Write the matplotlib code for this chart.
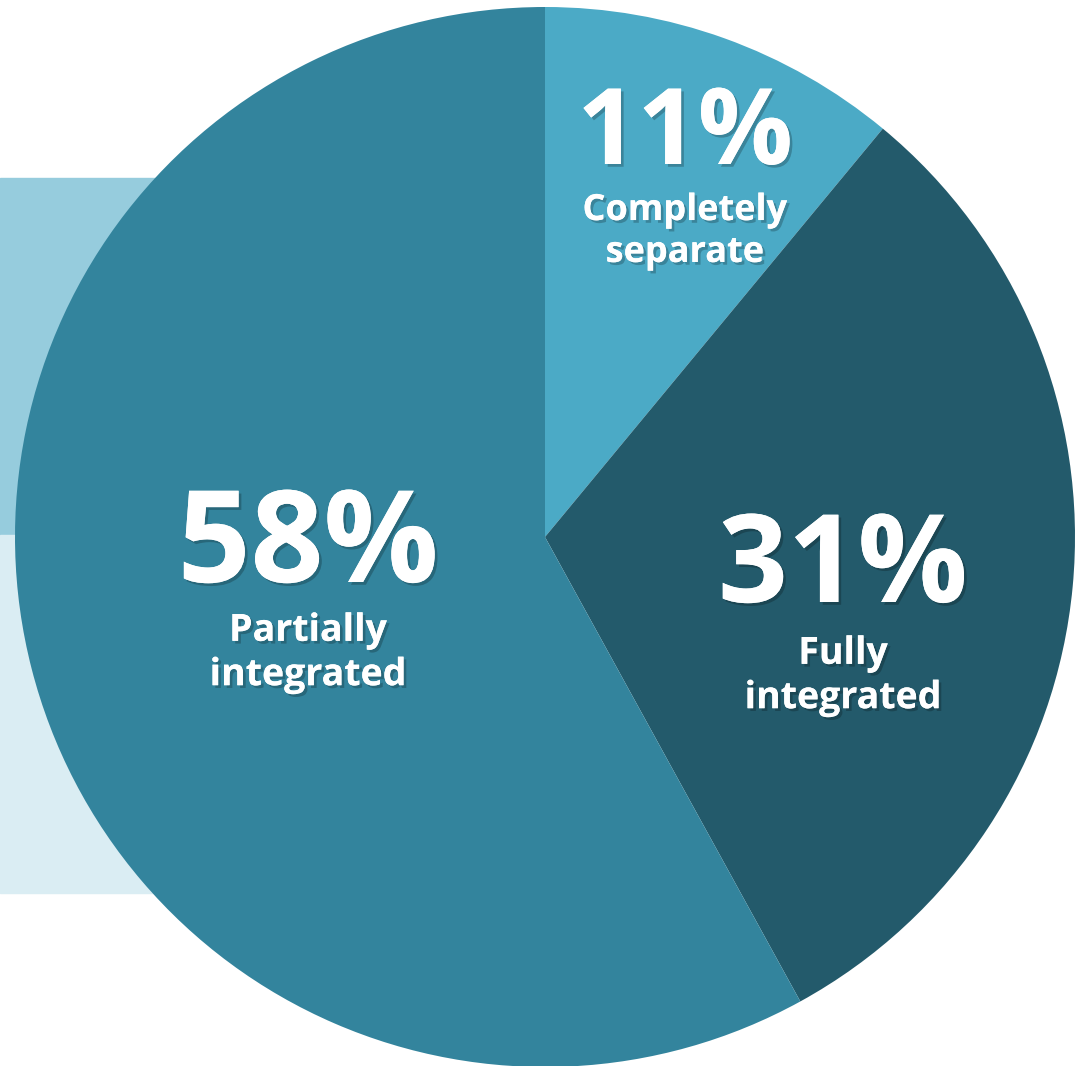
import matplotlib.pyplot as plt
import matplotlib.patheffects as pe
from matplotlib.patches import Rectangle

# data
categories = ['Completely\nseparate', 'Fully\nintegrated', 'Partially\nintegrated']
shares = [11, 31, 58]
colors = ['#4BAAC6', '#235A6B', '#33849D']

W, H = 1083, 1066
fig = plt.figure(figsize=(W / 100, H / 100), dpi=100)
ax = fig.add_axes([0, 0, 1, 1])

# decorative blocks behind the pie
ax.add_patch(Rectangle((0, H - 535), 545, 357, color='#96CCDD', zorder=0))
ax.add_patch(Rectangle((0, H - 893), 545, 358, color='#DAEDF3', zorder=0))

cx, cy, r = 545, H - 537, 530
ax.pie(shares, colors=colors, startangle=90, counterclock=False,
       center=(cx, cy), radius=r, frame=True,
       wedgeprops=dict(linewidth=0))
ax.set_xlim(0, W)
ax.set_ylim(0, H)
ax.set_aspect('equal')
ax.axis('off')

shadow = [pe.withSimplePatchShadow(offset=(2, -2), shadow_rgbFace='black', alpha=0.22),
          pe.Normal()]

# label positions in pixels (x, y of percent, y of caption, sizes)
label_pos = [(685, 136, 232, 76, 26),
             (843, 570, 676, 88, 27),
             (308, 549, 653, 92, 27)]

for cat, val, (x, yp, yc, fs_big, fs_small) in zip(categories, shares, label_pos):
    t = ax.text(x, H - yp, f'{val}%', ha='center', va='center', color='white',
                fontsize=fs_big, fontweight='bold', family='Open Sans')
    t.set_path_effects(shadow)
    t = ax.text(x, H - yc, cat, ha='center', va='center', color='white',
                fontsize=fs_small, fontweight='bold', family='Open Sans',
                linespacing=1.22)
    t.set_path_effects(shadow)

fig.savefig('out.png', dpi=100, facecolor='white')
